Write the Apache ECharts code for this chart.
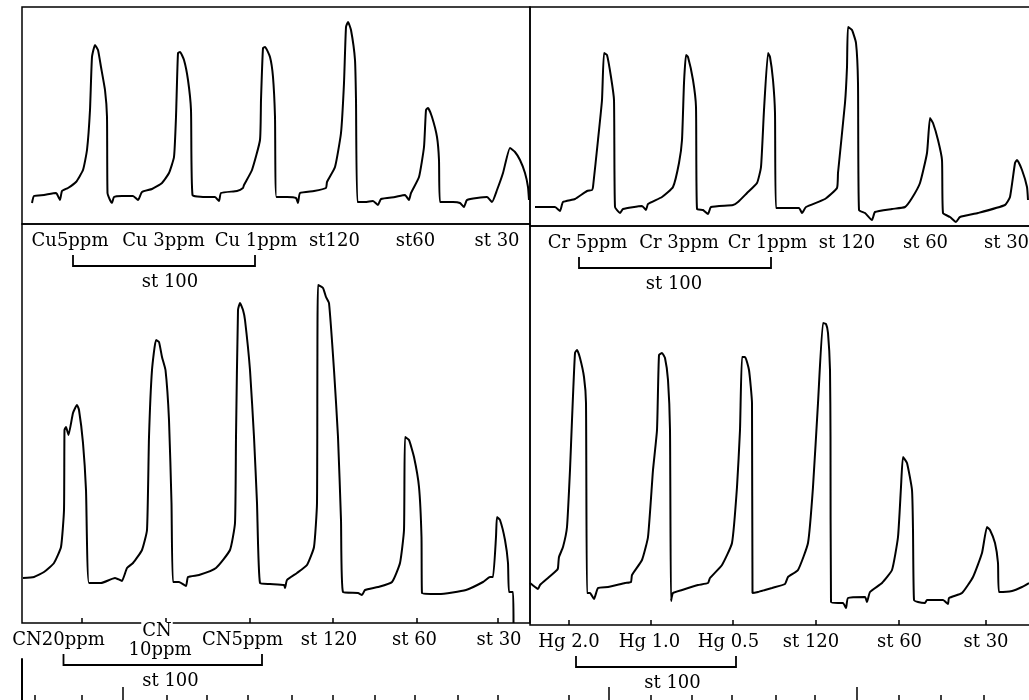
<!DOCTYPE html>
<html>
<head>
<meta charset="utf-8">
<script src="https://cdn.jsdelivr.net/npm/echarts@6/dist/echarts.min.js"></script>
<style>
  html, body { margin: 0; padding: 0; background: #fff; }
  #chart { width: 1029px; height: 700px; }
</style>
</head>
<body>
<div id="chart"></div>
<script>
// Recorder traces: [time, signal]
const cuTrace = [[10,21],[12,28],[22,29],[34,31],[35,30],[38,24],[40,33],[46,36],[54,42],[61,54],[65,74],[68,114],[70,167],[73,179],[76,174],[79,157],[83,134],[85,107],[85.5,31],[88,24],[90,21],[92,27],[100,28],[111,28],[116,24],[120,32],[130,35],[140,41],[147,51],[152,67],[154,107],[156,171],[158,172],[162,164],[166,144],[169,114],[170.5,29],[181,27],[193,27],[197,23],[199,31],[215,33],[221,36],[222,39],[230,54],[238,84],[239,124],[241,176],[243,177],[248,167],[251,147],[253,107],[254.5,27],[265,27],[274,26],[276,21],[278,31],[292,33],[304,36],[305,42],[313,57],[319,91],[322,141],[324,197],[326,202],[329,194],[333,164],[334,124],[335.5,22],[343,22],[351,23],[356,19],[359,25],[373,27],[383,29],[387,24],[389,31],[397,47],[402,77],[404,114],[406,116],[410,107],[415,87],[417,64],[418,22],[431,22],[438,21],[442,17],[445,24],[465,27],[470,22],[475,34],[481,51],[488,76],[493,72],[498,64],[503,51],[506,37],[507,24]];

const crTrace = [[5,19],[25,19],[30,15],[33,24],[45,27],[57,35],[62,36],[63,39],[68,86],[72,126],[74,173],[77,171],[81,149],[84,126],[85,19],[90,13],[93,17],[112,20],[116,16],[118,22],[132,29],[143,39],[149,63],[152,86],[154,143],[156,171],[158,169],[163,146],[166,119],[167,17],[173,16],[178,12],[181,19],[203,21],[208,24],[217,33],[227,43],[231,59],[234,116],[238,173],[240,169],[243,146],[245,113],[246,18],[269,18],[272,13],[276,19],[295,27],[307,38],[308,53],[315,123],[317,159],[318,199],[322,196],[326,183],[328,143],[329,16],[335,13],[342,6],[345,14],[362,17],[375,19],[382,28],[390,43],[397,73],[400,108],[403,103],[408,86],[412,66],[413,13],[420,9],[426,4],[430,9],[448,13],[475,21],[480,29],[485,63],[487,66],[492,56],[497,39],[498,26]];

const cnTrace = [[1,45],[12,46],[22,51],[32,60],[39,76],[42,113],[42.5,193],[44,196],[46.5,188],[51,210],[55,218],[57,213],[61,180],[64,133],[67,40],[79,40],[93,45],[98,43],[100,42],[105,55],[111,60],[120,73],[125,93],[127,186],[130,253],[134,283],[137,281],[140,266],[143.5,253],[147,203],[149.5,120],[151,41],[157,41],[164,37],[166,46],[177,48],[194,55],[208,73],[213,100],[214,186],[216,313],[218,320],[221,313],[223,303],[228,253],[232,186],[235,120],[238,40],[248,39],[262,38],[263,35],[265,43],[275,50],[285,58],[292,76],[295,120],[296,338],[301,335],[304,326],[307,320],[312,253],[316,186],[319,103],[321,31],[336,30],[340,28],[343,33],[356,36],[370,41],[378,60],[382,93],[383,186],[387,183],[392,166],[397,136],[399.5,86],[400,30],[417,29],[444,33],[461,41],[468,46],[471,46],[474,86],[475,106],[478,103],[483,83],[486,60],[487,31],[491,31],[491.5,0]];

const hgTrace = [[0,42],[5,38],[8,36],[10,40],[18,47],[27,55],[28,57],[29,68],[33,78],[37,98],[40,155],[42,205],[45,272],[47,275],[50,267],[54,248],[56,222],[57,32],[60,32],[64,26],[68,37],[78,38],[95,42],[101,43],[102,50],[112,65],[118,88],[123,155],[127,195],[129,270],[132,272],[135,267],[138,245],[140,195],[141,24],[143,32],[152,35],[168,40],[178,42],[180,47],[192,60],[202,82],[207,138],[210,195],[212,268],[215,268],[219,255],[222,222],[222.5,32],[228,33],[235,35],[242,37],[255,41],[258,48],[268,55],[278,82],[283,138],[288,222],[293,302],[296,301],[298,292],[300,255],[300.5,188],[301,23],[308,22],[313,22],[316,17],[318,27],[335,28],[337,23],[340,33],[352,42],[362,55],[368,88],[371,138],[373,168],[377,162],[382,135],[383,95],[384,25],[388,23],[395,22],[397,25],[413,25],[418,21],[419,27],[432,32],[443,48],[452,72],[457,98],[460,95],[465,82],[468,62],[469,33],[482,34],[492,38],[499,42]];

// Sample labels and where they sit on each time axis
const cuLabels = ['Cu5ppm', 'Cu 3ppm', 'Cu 1ppm', 'st120', 'st60', 'st 30'];
const cuLabelAt = [48, 141.5, 234, 312.5, 393.5, 475];
const crLabels = ['Cr 5ppm', 'Cr 3ppm', 'Cr 1ppm', 'st 120', 'st 60', 'st 30'];
const crLabelAt = [57.5, 149, 237.5, 317, 395.5, 476.5];
const cnLabels = ['CN20ppm', 'CN\n10ppm', 'CN5ppm', 'st 120', 'st 60', 'st 30'];
const cnLabelAt = [36.5, 137, 220.5, 307, 392.5, 477];
const hgLabels = ['Hg 2.0', 'Hg 1.0', 'Hg 0.5', 'st 120', 'st 60', 'st 30'];
const hgLabelAt = [39, 119.5, 198.5, 281, 369.5, 456];

// "st 100" brackets: [from, to, label centre]
const cuBracket = [51, 233, 148];
const crBracket = [49, 241, 144];
const cnBracket = [41.5, 240, 148.5];
const hgBracket = [46, 206, 142.5];

// injection ticks on the lower strips, and the chart-paper time scale
const cnTicks = [60, 144, 228, 311, 395, 476];
const hgTicks = [39, 121, 203, 286, 369, 456];
const timeTicks = [13, 60, 101, 145, 185, 226, 270, 311, 353, 393, 436, 476, 547, 587, 629, 670, 710, 754, 793, 835, 877, 919, 962];
const timeMajorTicks = [101, 587, 835];

const FONT = '18px "DejaVu Serif", "Liberation Serif", serif';
const INK = '#000';

const dom = document.getElementById('chart');
const chart = echarts.init(dom, null, { renderer: 'canvas' });

const panelGrid = (left, top, width, height) => ({
  left, top, width, height,
  show: true, borderColor: INK, borderWidth: 1.5,
  backgroundColor: 'transparent', outerBoundsMode: 'none'
});

function hiddenX(grid, max) {
  return { gridIndex: grid, type: 'value', min: 0, max, show: false };
}

function tickX(grid, max, ticks, len) {
  return {
    gridIndex: grid, type: 'value', position: 'bottom', offset: 0, min: 0, max,
    axisLine: { show: false },
    axisLabel: { show: false },
    splitLine: { show: false },
    axisTick: { show: true, inside: true, length: len, customValues: ticks,
      lineStyle: { color: INK, width: 1.5 } }
  };
}

function hiddenY(grid, max) {
  return { gridIndex: grid, type: 'value', min: 0, max, show: false };
}

function trace(i, data) {
  return {
    type: 'line', xAxisIndex: i, yAxisIndex: i, data,
    showSymbol: false, smooth: 0.15, clip: false,
    lineStyle: { color: INK, width: 2 }
  };
}

chart.setOption({
  animation: false,
  backgroundColor: '#fff',
  grid: [
    panelGrid(22, 7, 508, 217),
    panelGrid(530, 7, 502, 219),
    panelGrid(22, 224, 508, 399),
    panelGrid(530, 226, 502, 399),
    { left: 22, top: 659, width: 1010, height: 41, outerBoundsMode: 'none' }
  ],
  xAxis: [
    hiddenX(0, 508),
    hiddenX(1, 502),
    tickX(2, 508, cnTicks, 5),
    tickX(3, 502, hgTicks, 5),
    tickX(4, 1010, timeTicks, 5),
    tickX(4, 1010, timeMajorTicks, 13)
  ],
  yAxis: [
    hiddenY(0, 217),
    hiddenY(1, 219),
    hiddenY(2, 399),
    hiddenY(3, 399),
    {
      gridIndex: 4, type: 'value', min: 0, max: 1,
      axisLine: { show: true, lineStyle: { color: INK, width: 2 } },
      axisTick: { show: false }, axisLabel: { show: false }, splitLine: { show: false }
    }
  ],
  series: [
    trace(0, cuTrace),
    trace(1, crTrace),
    trace(2, cnTrace),
    trace(3, hgTrace)
  ]
});

// texts and brackets under each strip, placed through the axes
const panels = [
  { grid: 0, labels: cuLabels, at: cuLabelAt, bracket: cuBracket },
  { grid: 1, labels: crLabels, at: crLabelAt, bracket: crBracket },
  { grid: 2, labels: cnLabels, at: cnLabelAt, bracket: cnBracket },
  { grid: 3, labels: hgLabels, at: hgLabelAt, bracket: hgBracket }
];

function textEl(x, y, txt, bg) {
  return {
    type: 'text', z: 100, x, y,
    style: {
      text: txt, font: FONT, fill: INK, align: 'center', verticalAlign: 'middle',
      backgroundColor: bg ? '#fff' : null, padding: bg ? [0, 1] : 0
    }
  };
}

const graphics = [];
panels.forEach(p => {
  const px = t => chart.convertToPixel({ gridIndex: p.grid }, [t, 0]);
  const axisY = px(0)[1];
  p.labels.forEach((txt, k) => {
    const x = px(p.at[k])[0];
    const lines = txt.split('\n');
    if (lines.length > 1) {
      // stacked label: first line sits on the axis and breaks it
      graphics.push(textEl(x - 2, axisY + 8, lines[0], true));
      graphics.push(textEl(x + 1, axisY + 27, lines[1], false));
    } else {
      graphics.push(textEl(x, axisY + 17, txt, false));
    }
  });
  const x1 = px(p.bracket[0])[0], x2 = px(p.bracket[1])[0];
  graphics.push({
    type: 'polyline', z: 100,
    shape: { points: [[x1, axisY + 31], [x1, axisY + 42], [x2, axisY + 42], [x2, axisY + 31]] },
    style: { stroke: INK, lineWidth: 1.8, fill: null }
  });
  graphics.push(textEl(px(p.bracket[2])[0], axisY + 58, 'st 100', false));
});

chart.setOption({ graphic: graphics });

window.addEventListener('resize', function () {
  chart.resize();
});
</script>
</body>
</html>
